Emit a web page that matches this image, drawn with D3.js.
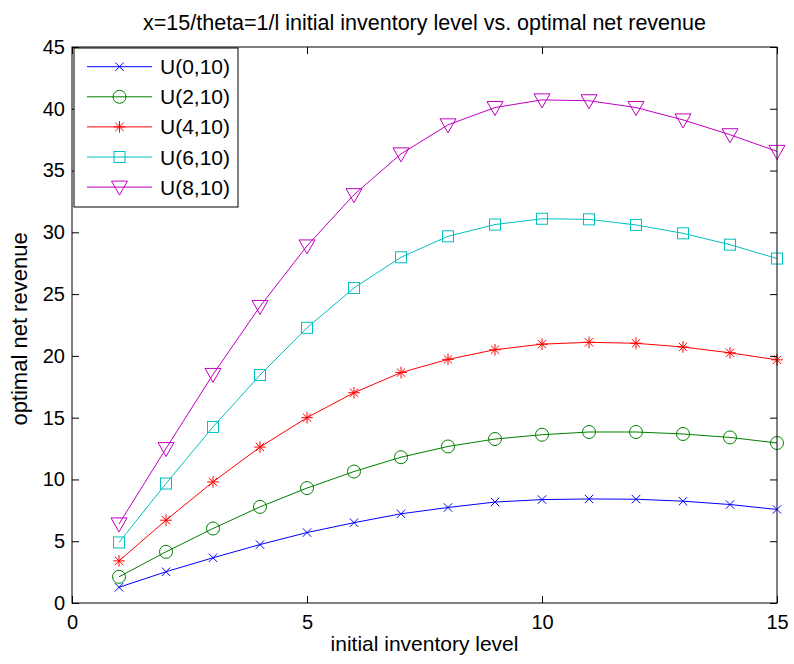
<!DOCTYPE html>
<html><head><meta charset="utf-8">
<script src="https://cdn.jsdelivr.net/npm/d3@7"></script>
<style>body{margin:0;background:#fff}svg{display:block}text{font-family:"Liberation Sans",Arial,sans-serif}</style>
</head><body><svg id="c" width="794" height="664"></svg>
<script>
const xs = [1,2,3,4,5,6,7,8,9,10,11,12,13,14,15];
const u0 = [1.27,2.53,3.66,4.73,5.70,6.50,7.22,7.73,8.17,8.37,8.42,8.40,8.24,7.97,7.57];
const u2 = [2.12,4.14,6.03,7.78,9.30,10.64,11.80,12.67,13.27,13.62,13.84,13.84,13.68,13.40,12.95];
const u4 = [3.41,6.70,9.80,12.62,15.00,17.02,18.65,19.72,20.50,20.95,21.10,21.02,20.72,20.25,19.68];
const u6 = [4.90,9.67,14.25,18.45,22.27,25.50,27.98,29.68,30.63,31.10,31.05,30.60,29.92,29.00,27.88];
const u8 = [6.40,12.50,18.50,24.00,28.90,33.05,36.35,38.70,40.10,40.72,40.65,40.10,39.10,37.90,36.55];
const seriesNames = ["U(0,10)","U(2,10)","U(4,10)","U(6,10)","U(8,10)"];
const xTicks = [0,5,10,15];
const yTicks = [0,5,10,15,20,25,30,35,40,45];
const titleText = "x=15/theta=1/l initial inventory level vs. optimal net revenue";
const xLabelText = "initial inventory level";
const yLabelText = "optimal net revenue";

const colors = ["#0000ff","#008000","#ff0000","#00bfbf","#bf00bf"];
const markers = ["x","o","*","s","v"];
const data = [u0,u2,u4,u6,u8];

const L=72,R=777,T=47,B=603;
const FONT='"Liberation Sans",Arial,sans-serif';
const svg = d3.select("#c");
const x = d3.scaleLinear().domain([0,15]).range([L,R]);
const y = d3.scaleLinear().domain([0,45]).range([B,T]);

function drawMarker(g, type, cx, cy, color){
  if(type==="x"){
    const s=4.2;
    g.append("path").attr("d",`M${cx-s},${cy-s}L${cx+s},${cy+s}M${cx-s},${cy+s}L${cx+s},${cy-s}`).attr("stroke",color).attr("fill","none").attr("stroke-width",1);
  } else if(type==="o"){
    g.append("circle").attr("cx",cx).attr("cy",cy).attr("r",6.5).attr("stroke",color).attr("fill","none").attr("stroke-width",1);
  } else if(type==="*"){
    const s=5.8, d=s*0.72;
    g.append("path").attr("d",`M${cx},${cy-s}L${cx},${cy+s}M${cx-s},${cy}L${cx+s},${cy}M${cx-d},${cy-d}L${cx+d},${cy+d}M${cx-d},${cy+d}L${cx+d},${cy-d}`).attr("stroke",color).attr("fill","none").attr("stroke-width",1);
  } else if(type==="s"){
    g.append("rect").attr("x",cx-5.5).attr("y",cy-5.5).attr("width",11).attr("height",11).attr("stroke",color).attr("fill","none").attr("stroke-width",1);
  } else if(type==="v"){
    g.append("path").attr("d",`M${cx-8},${cy-6}L${cx+8},${cy-6}L${cx},${cy+8}Z`).attr("stroke",color).attr("fill","none").attr("stroke-width",1);
  }
}

// lines and markers
const line = d3.line().x((d,i)=>x(xs[i])).y(d=>y(d));
data.forEach((vals,k)=>{
  const g = svg.append("g");
  g.append("path").datum(vals).attr("d",line).attr("fill","none").attr("stroke",colors[k]).attr("stroke-width",1);
  vals.forEach((v,i)=>drawMarker(g,markers[k],x(xs[i]),y(v),colors[k]));
});

// axes (ticks inward, all four sides)
const tl=7;
const ax = svg.append("g");
ax.append("g").attr("transform",`translate(0,${B})`).call(d3.axisBottom(x).tickValues(xTicks).tickSizeInner(-tl).tickSizeOuter(0).tickPadding(12));
ax.append("g").attr("transform",`translate(0,${T})`).call(d3.axisTop(x).tickValues(xTicks).tickSizeInner(-tl).tickSizeOuter(0).tickFormat(""));
ax.append("g").attr("transform",`translate(${L},0)`).call(d3.axisLeft(y).tickValues(yTicks).tickSizeInner(-tl).tickSizeOuter(0).tickPadding(7));
ax.append("g").attr("transform",`translate(${R},0)`).call(d3.axisRight(y).tickValues(yTicks).tickSizeInner(-tl).tickSizeOuter(0).tickFormat(""));
ax.selectAll(".domain").remove();
ax.selectAll(".tick line").attr("stroke","#000");
ax.selectAll(".tick text").attr("font-size",20).attr("fill","#000").style("font-family",FONT);
svg.append("rect").attr("x",L).attr("y",T).attr("width",R-L).attr("height",B-T).attr("fill","none").attr("stroke","#000").attr("stroke-width",1);

// title and labels
svg.append("text").attr("x",(L+R)/2).attr("y",30).attr("text-anchor","middle").attr("font-size",21.5).text(titleText);
svg.append("text").attr("x",(L+R)/2).attr("y",651).attr("text-anchor","middle").attr("font-size",21).text(xLabelText);
svg.append("text").attr("transform",`translate(27,329) rotate(-90)`).attr("text-anchor","middle").attr("font-size",22).text(yLabelText);

// legend
const lg = svg.append("g");
lg.append("rect").attr("x",74).attr("y",48).attr("width",164).attr("height",159).attr("fill","#fff").attr("stroke","#000").attr("stroke-width",1);
seriesNames.forEach((n,k)=>{
  const yy = 66.7 + k*30.1;
  lg.append("line").attr("x1",87).attr("x2",152).attr("y1",yy).attr("y2",yy).attr("stroke",colors[k]).attr("stroke-width",1);
  drawMarker(lg,markers[k],119.5,yy,colors[k]);
  lg.append("text").attr("x",160).attr("y",yy+7.5).attr("font-size",21).text(n);
});
</script></body></html>
